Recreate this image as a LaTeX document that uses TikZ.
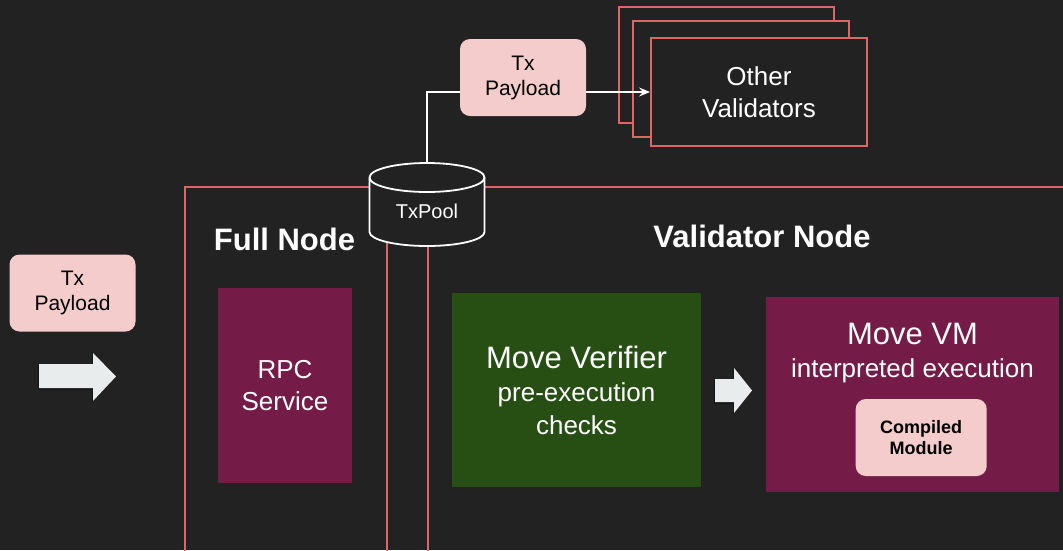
\documentclass[tikz,border=0pt]{standalone}
\usepackage{fontspec}
\setmainfont{Liberation Sans}
\usetikzlibrary{arrows.meta}

\definecolor{bg}{HTML}{222222}
\definecolor{salmon}{HTML}{E06666}
\definecolor{blush}{HTML}{F4CCCC}
\definecolor{plum}{HTML}{741B47}
\definecolor{forest}{HTML}{274E13}
\definecolor{arrowgrey}{HTML}{E9ECEC}
\definecolor{shade}{HTML}{141414}

\begin{document}
\begin{tikzpicture}[x=1pt,y=-1pt,
  pinkbox/.style={fill=blush, rounded corners=10pt, minimum width=126pt,
    minimum height=77pt, inner sep=0pt, align=center, text=black,
    font=\fontsize{21}{25}\selectfont},
  plumbox/.style={fill=plum, inner sep=0pt, align=center, text=white},
  frame/.style={draw=salmon, line width=2pt, inner sep=0pt},
  heading/.style={font=\bfseries\fontsize{31}{36}\selectfont, text=white, inner sep=0pt},
  wire/.style={draw=white, line width=1.6pt},
  blockarrow/.style={fill=arrowgrey},
  blockshadow/.style={fill=shade}]

% canvas
\fill[bg] (0,0) rectangle (1063,550);
\useasboundingbox (0,0) rectangle (1063,550);

% node frames
\node[frame, minimum width=201.5pt, minimum height=380pt, anchor=north west] (full) at (184,186) {};
\node[frame, minimum width=660pt, minimum height=380pt, anchor=north west] (validator) at (427,186) {};
\node[heading, anchor=base] (fulltitle) at (284.5,250) {Full Node};
\node[heading, anchor=base] (valtitle) at (762,247) {Validator Node};

% incoming transaction
\node[pinkbox] (txin) at (72.5,293) {Tx\\Payload};
\fill[blockshadow] (38,365.5) -- (92,365.5) -- (92,354.5) -- (115,378) -- (92,402.5) -- (92,389.5) -- (38,389.5) -- cycle;
\fill[blockarrow] (39,364) -- (93,364) -- (93,353) -- (116,376.5) -- (93,401) -- (93,388) -- (39,388) -- cycle;

% full node service
\node[plumbox, minimum width=134pt, minimum height=195pt,
  font=\fontsize{26}{32}\selectfont] (rpc) at (285,385.5) {RPC\\Service};

% validator pipeline
\node[fill=forest, minimum width=249pt, minimum height=194pt, inner sep=0pt,
  align=center, text=white, font=\fontsize{26}{33}\selectfont] (verifier) at (576.5,390)
  {{\fontsize{31}{36}\selectfont Move Verifier}\\pre-execution\\checks};
\fill[blockshadow] (714,380.5) -- (733,380.5) -- (733,369.5) -- (751,392) -- (733,414.5) -- (733,403.5) -- (714,403.5) -- cycle;
\fill[blockarrow] (715,379) -- (734,379) -- (734,368) -- (752,390.5) -- (734,413) -- (734,402) -- (715,402) -- cycle;
\node[plumbox, minimum width=293pt, minimum height=195pt] (vm) at (912.5,394.5) {};
\node[text=white, align=center, inner sep=0pt, font=\fontsize{26}{33}\selectfont] (vmtitle) at (912.5,353)
  {{\fontsize{31}{36}\selectfont Move VM}\\interpreted execution};
\node[pinkbox, minimum width=131pt, minimum height=77pt,
  font=\bfseries\fontsize{18}{21}\selectfont] (module) at (921.2,437.5) {Compiled\\Module};

% other validators (stacked)
\node[frame, fill=bg, minimum width=215pt, minimum height=116pt] (val3) at (726.5,65) {};
\node[frame, fill=bg, minimum width=216pt, minimum height=116pt] (val2) at (741,79) {};
\node[frame, fill=bg, minimum width=216pt, minimum height=108pt, align=center,
  text=white, font=\fontsize{26}{32}\selectfont] (val1) at (759,92) {Other\\Validators};

% transaction pool
\node[minimum width=116pt, minimum height=83pt, inner sep=0pt] (pool) at (427,204.5) {};
\path[draw=white, line width=1.8pt, fill=bg]
  (369.5,177.5) -- (369.5,232) arc[start angle=180, end angle=360, x radius=57.5pt, y radius=14pt]
  -- (484.5,177.5) arc[start angle=0, end angle=180, x radius=57.5pt, y radius=14.5pt] -- cycle;
\draw[white, line width=1.8pt] (369.5,177.5) arc[start angle=180, end angle=360, x radius=57.5pt, y radius=14.5pt];
\node[text=white, inner sep=0pt, font=\fontsize{20}{24}\selectfont] (poollabel) at (427,211) {TxPool};

% gossip
\node[pinkbox] (txtop) at (523,77.5) {Tx\\Payload};
\draw[wire] (pool.north) |- ([yshift=-14.5pt]txtop.west);
\draw[wire, -{Stealth[length=11pt, width=9pt, inset=4pt]}] ([yshift=-14.5pt]txtop.east) -- (val1.west);
\end{tikzpicture}
\end{document}
